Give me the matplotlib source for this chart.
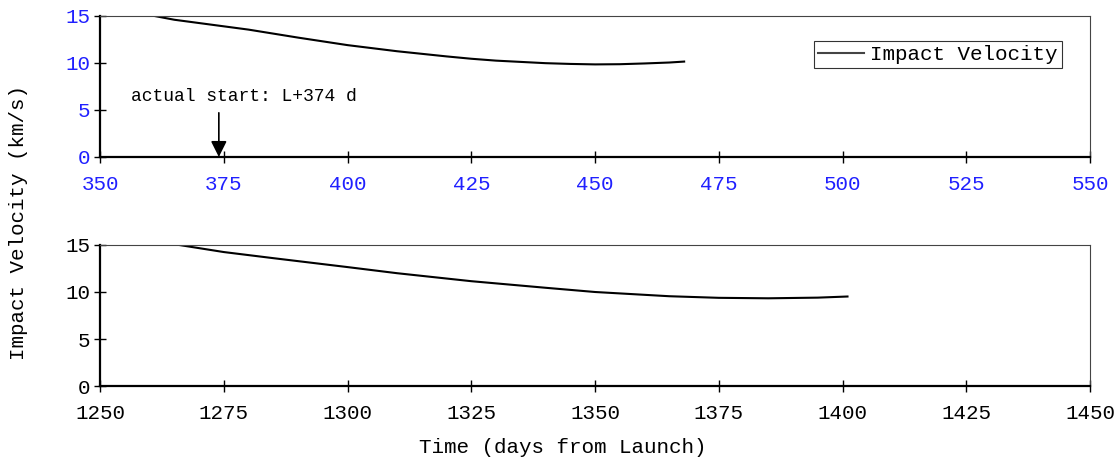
import matplotlib
matplotlib.use('Agg')
import matplotlib.pyplot as plt

plt.rcParams['font.family'] = ['Liberation Mono', 'DejaVu Sans Mono']
plt.rcParams['font.size'] = 15

# First window (days from launch, km/s)
days_1 = [360, 365, 370, 375, 380, 390, 400, 410, 420, 425, 430, 440, 445, 450, 455, 460, 465, 468]
vel_1 = [15.1, 14.6, 14.25, 13.9, 13.55, 12.7, 11.9, 11.25, 10.7, 10.45, 10.25, 9.98, 9.9, 9.85, 9.87, 9.95, 10.05, 10.15]

# Second window
days_2 = [1266, 1275, 1285, 1300, 1310, 1325, 1340, 1350, 1360, 1365, 1375, 1385, 1395, 1401]
vel_2 = [15.0, 14.25, 13.6, 12.65, 12.0, 11.15, 10.45, 10.0, 9.7, 9.55, 9.38, 9.33, 9.4, 9.52]

xlims = [(350, 550), (1250, 1450)]
yticks = [0, 5, 10, 15]
tick_color_top = '#2020ff'

start_day = 374
start_label = 'actual start: L+374 d'

fig = plt.figure(figsize=(11.14, 4.62), dpi=100)
ax1 = fig.add_axes([0.0898, 0.6602, 0.8887, 0.3052])
ax2 = fig.add_axes([0.0898, 0.1645, 0.8887, 0.3052])

for ax, xs, ys, lim in [(ax1, days_1, vel_1, xlims[0]), (ax2, days_2, vel_2, xlims[1])]:
    ax.plot(xs, ys, color='black', linewidth=1.5, label='Impact Velocity')
    ax.set_xlim(*lim)
    ax.set_ylim(0, 15)
    ax.set_xticks(range(lim[0], lim[1] + 1, 25))
    ax.set_yticks(yticks)
    ax.tick_params(axis='x', direction='inout', length=8, width=1, pad=9)
    ax.tick_params(axis='y', direction='inout', length=8, width=1, pad=3)
    for s in ['left', 'bottom']:
        ax.spines[s].set_linewidth(1.6)
        ax.spines[s].set_color('black')
    for s in ['top', 'right']:
        ax.spines[s].set_linewidth(0.8)
        ax.spines[s].set_color('#444444')

ax1.tick_params(axis='both', labelcolor=tick_color_top)

leg = ax1.legend(loc='upper right', bbox_to_anchor=(0.9717, 0.825), frameon=True,
                 fancybox=False, handlelength=2.2, handletextpad=0.3,
                 borderpad=0.2, borderaxespad=0, fontsize=15)
leg.get_frame().set_edgecolor('black')
leg.get_frame().set_linewidth(0.8)
leg.get_lines()[0].set_color('#444444')

ax1.annotate('', xy=(start_day, 0), xytext=(start_day, 4.7),
             arrowprops=dict(arrowstyle='-|>', color='black', lw=1.2,
                             mutation_scale=24, shrinkA=0, shrinkB=0))
ax1.text(356.3, 6.4, start_label, fontsize=13, ha='left', va='center')

ax2.set_xlabel('Time (days from Launch)')
ax2.xaxis.set_label_coords(0.4677, -0.37)
fig.text(0.017, 0.518, 'Impact Velocity (km/s)', rotation=90, ha='center', va='center', fontsize=15)

fig.savefig('out.png', dpi=100)
